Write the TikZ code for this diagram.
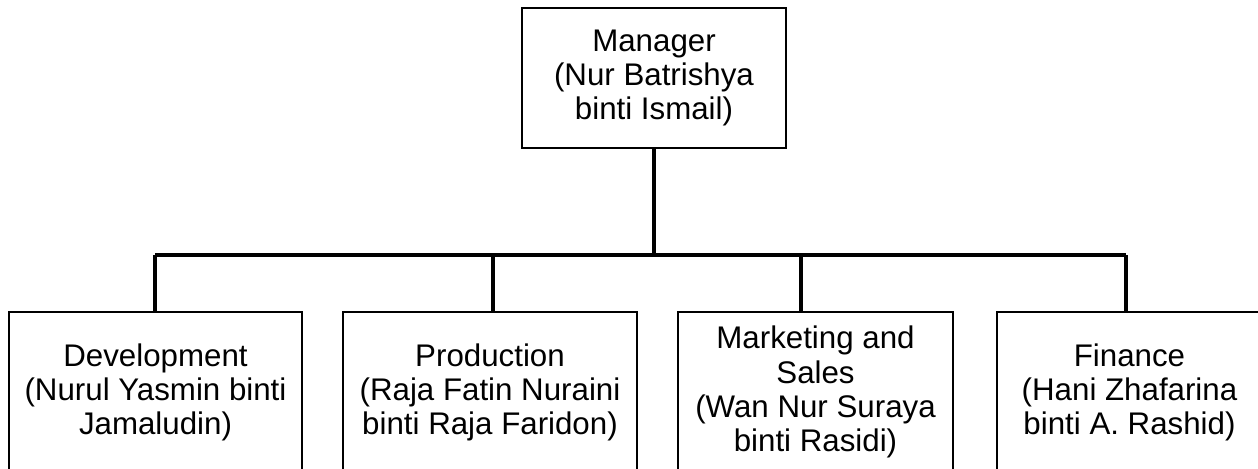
\documentclass[tikz,border=0pt]{standalone}
\usepackage{fontspec}
\setmainfont{Liberation Sans}
\begin{document}
\begin{tikzpicture}[x=0.02cm,y=0.02cm,align=center]
\tikzstyle{unit}=[draw,line width=1.1pt,inner sep=0pt,font=\fontsize{17.8}{19.4}\selectfont]
\tikzstyle{dept}=[unit,minimum height=3.2cm]
\tikzstyle{link}=[line width=2pt]
\useasboundingbox (0,0) rectangle (1258,468);
\clip (0,0) rectangle (1258,468);
\node[unit,minimum width=5.28cm,minimum height=2.8cm] (manager) at (654,390)
    {Manager\\(Nur Batrishya\\binti Ismail)};
\node[dept,minimum width=5.86cm] (dev) at (155.5,76)
    {Development\\(Nurul Yasmin binti\\Jamaludin)};
\node[dept,minimum width=5.88cm] (prod) at (490,76)
    {Production\\(Raja Fatin Nuraini\\binti Raja Faridon)};
\node[dept,minimum width=5.5cm] (mkt) at (815.5,76)
    {Marketing and\\Sales\\(Wan Nur Suraya\\binti Rasidi)};
\node[dept,minimum width=5.3cm] (fin) at (1129.5,76)
    {Finance\\(Hani Zhafarina\\binti A. Rashid)};
\coordinate (bus) at (654,213);
\coordinate (d1) at (155,213);
\coordinate (d2) at (493,213);
\coordinate (d3) at (801,213);
\coordinate (d4) at (1126,213);
\draw[link] (manager.south) -- (bus);
\draw[link] (d1) -- (d4);
\draw[link] (d1) -- (d1 |- dev.north);
\draw[link] (d2) -- (d2 |- prod.north);
\draw[link] (d3) -- (d3 |- mkt.north);
\draw[link] (d4) -- (d4 |- fin.north);
\end{tikzpicture}
\end{document}
